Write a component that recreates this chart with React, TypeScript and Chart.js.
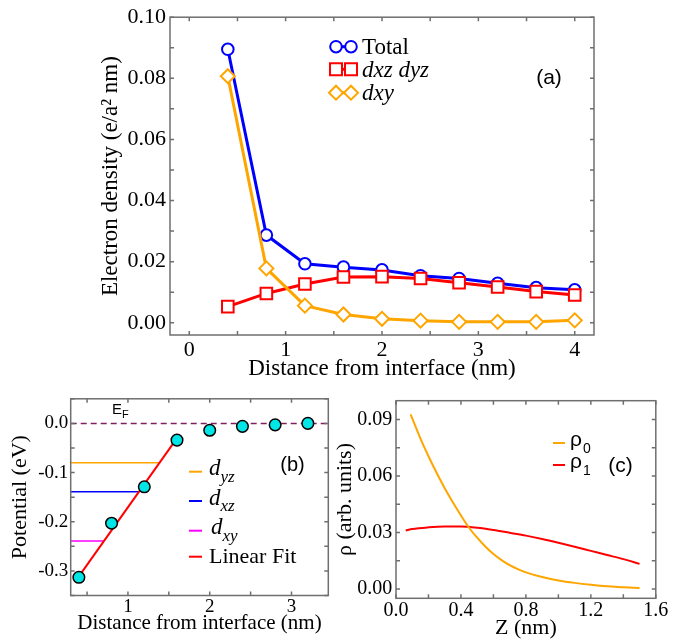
import React, { useEffect, useRef } from 'react';
import { Chart, registerables } from 'chart.js';

Chart.register(...registerables);

const SERIF = '"Liberation Serif", "Times New Roman", serif';
const SANS = '"Liberation Sans", Arial, sans-serif';

// ---------- Panel (a) data ----------
const distanceA = [0.4, 0.8, 1.2, 1.6, 2.0, 2.4, 2.8, 3.2, 3.6, 4.0];
const totalA = [0.0895, 0.0287, 0.0193, 0.0182, 0.0173, 0.0154, 0.0145, 0.0129, 0.0115, 0.0108];
const dxzDyzA = [0.0053, 0.0096, 0.0127, 0.0150, 0.0151, 0.0145, 0.0131, 0.0117, 0.0102, 0.0091];
const dxyA = [0.0807, 0.0178, 0.0056, 0.0027, 0.0013, 0.0007, 0.0003, 0.0003, 0.0003, 0.0008];
const xTicksA = [0, 1, 2, 3, 4];
const yTicksA = [0, 0.02, 0.04, 0.06, 0.08, 0.1];
const legendA = ['Total', 'dxz dyz', 'dxy'];

// ---------- Panel (b) data ----------
const distanceB = [0.4, 0.8, 1.2, 1.6, 2.0, 2.4, 2.8, 3.2];
const potentialB = [-0.313, -0.203, -0.129, -0.034, -0.014, -0.006, -0.003, 0.0];
const fitXB = [0.4, 1.6];
const fitYB = [-0.311, -0.03];
const levelYB = [-0.08, -0.139, -0.239];
const levelEndXB = [1.387, 1.135, 0.708];
const fermiB = 0.0;
const xTicksB = [1, 2, 3];
const yTicksB = [0, -0.1, -0.2, -0.3];
const legendMainB = ['d', 'd', 'd', 'Linear Fit'];
const legendSubB = ['yz', 'xz', 'xy', ''];

// ---------- Panel (c) data ----------
const zRho0 = [0.09, 0.15, 0.2, 0.25, 0.3, 0.35, 0.4, 0.45, 0.5, 0.55, 0.6, 0.65, 0.7, 0.75, 0.8, 0.9, 1.0, 1.1, 1.2, 1.3, 1.4, 1.5];
const rho0 = [0.0927, 0.0800, 0.0705, 0.0617, 0.0535, 0.046, 0.039, 0.0325, 0.0272, 0.0225, 0.0185, 0.0153, 0.0126, 0.0105, 0.0088, 0.0063, 0.0045, 0.0032, 0.0022, 0.0014, 0.0009, 0.0004];
const zRho1 = [0.06, 0.1, 0.2, 0.3, 0.4, 0.5, 0.6, 0.7, 0.8, 0.9, 1.0, 1.1, 1.2, 1.3, 1.4, 1.5];
const rho1 = [0.031, 0.0318, 0.0327, 0.0331, 0.0331, 0.0325, 0.0313, 0.0298, 0.0283, 0.0265, 0.0245, 0.0224, 0.0202, 0.018, 0.0158, 0.0133];
const xTicksC = [0, 0.4, 0.8, 1.2, 1.6];
const yTicksC = [0, 0.03, 0.06, 0.09];
const legendSubC = ['0', '1'];

const BLUE = '#0000ff';
const RED = '#ff0000';
const ORANGE = '#ffa500';
const MAGENTA = '#ff00ff';
const FRAME = '#6f6f6f';

const pts = (xs: number[], ys: number[]) => xs.map((x, i) => ({ x, y: ys[i] }));

function frameTicks(xStep: number, yStep: number) {
  return {
    id: 'frameTicks',
    afterDatasetsDraw(chart: any) {
      const { ctx, chartArea: a } = chart;
      const sx = chart.scales.x;
      const sy = chart.scales.y;
      const L = 4;
      ctx.save();
      ctx.strokeStyle = FRAME;
      ctx.lineWidth = 1.5;
      ctx.beginPath();
      for (let k = Math.ceil(sx.min / xStep - 1e-6); k <= Math.floor(sx.max / xStep + 1e-6); k++) {
        const px = sx.getPixelForValue(k * xStep);
        ctx.moveTo(px, a.bottom);
        ctx.lineTo(px, a.bottom - L);
        ctx.moveTo(px, a.top);
        ctx.lineTo(px, a.top + L);
      }
      for (let k = Math.ceil(sy.min / yStep - 1e-6); k <= Math.floor(sy.max / yStep + 1e-6); k++) {
        const py = sy.getPixelForValue(k * yStep);
        ctx.moveTo(a.left, py);
        ctx.lineTo(a.left + L, py);
        ctx.moveTo(a.right, py);
        ctx.lineTo(a.right - L, py);
      }
      ctx.stroke();
      ctx.strokeRect(a.left, a.top, a.right - a.left, a.bottom - a.top);
      ctx.restore();
    },
  };
}

function axis(o: any) {
  return {
    type: 'linear',
    min: o.min,
    max: o.max,
    grid: { display: false, drawTicks: false },
    border: { display: false },
    afterBuildTicks: (s: any) => {
      s.ticks = o.ticks.map((v: number) => ({ value: v }));
    },
    afterFit: (s: any) => {
      if (o.horizontal) s.height = o.size;
      else s.width = o.size;
    },
    ticks: {
      color: '#000',
      font: { family: SERIF, size: o.tickSize },
      padding: o.tickPad,
      maxRotation: 0,
      autoSkip: false,
      callback: (v: any) => Number(v).toFixed(o.digits),
    },
    title: {
      display: true,
      text: o.title,
      color: '#000',
      font: { family: SERIF, size: o.titleSize },
      padding: o.horizontal ? { top: 0, bottom: o.titlePad } : { top: o.titlePad, bottom: 0 },
    },
  };
}

function drawMarker(ctx: any, style: string, x: number, y: number, r: number, color: string) {
  ctx.save();
  ctx.fillStyle = '#fff';
  ctx.strokeStyle = color;
  ctx.lineWidth = 2;
  ctx.beginPath();
  if (style === 'circle') {
    ctx.arc(x, y, r, 0, Math.PI * 2);
  } else if (style === 'rect') {
    const h = r * Math.SQRT1_2;
    ctx.rect(x - h, y - h, 2 * h, 2 * h);
  } else {
    ctx.moveTo(x - r, y);
    ctx.lineTo(x, y - r);
    ctx.lineTo(x + r, y);
    ctx.lineTo(x, y + r);
    ctx.closePath();
  }
  ctx.fill();
  ctx.stroke();
  ctx.restore();
}

const baseOptions = (padding: any) => ({
  animation: false,
  responsive: false,
  devicePixelRatio: 1,
  layout: { padding, autoPadding: false },
  plugins: { legend: { display: false }, tooltip: { enabled: false } },
});

function configA(): any {
  const styles = [
    { c: BLUE, s: 'circle', r: 5.8 },
    { c: RED, s: 'rect', r: 8.2 },
    { c: ORANGE, s: 'rectRot', r: 7 },
  ];
  const series = [totalA, dxzDyzA, dxyA];
  const datasets = series.map((ys, i) => ({
    label: legendA[i],
    data: pts(distanceA, ys),
    showLine: true,
    borderColor: styles[i].c,
    borderWidth: 3,
    tension: 0,
    pointStyle: styles[i].s,
    pointRadius: styles[i].r,
    pointBorderWidth: 2,
    pointBorderColor: styles[i].c,
    pointBackgroundColor: '#ffffff',
    order: 2 - i,
  }));
  const annot = {
    id: 'annotA',
    afterDraw(chart: any) {
      const ctx = chart.ctx;
      const rows = [46.7, 69.3, 92.7];
      ctx.save();
      rows.forEach((ry, i) => {
        ctx.strokeStyle = styles[i].c;
        ctx.lineWidth = 3;
        ctx.beginPath();
        ctx.moveTo(336, ry);
        ctx.lineTo(351, ry);
        ctx.stroke();
        const rr = styles[i].s === 'circle' ? 5.8 : styles[i].s === 'rect' ? 8.5 : 7;
        drawMarker(ctx, styles[i].s, 336, ry, rr, styles[i].c);
        drawMarker(ctx, styles[i].s, 351, ry, rr, styles[i].c);
        ctx.fillStyle = '#000';
        ctx.textAlign = 'left';
        ctx.textBaseline = 'alphabetic';
        ctx.font = (i === 0 ? '' : 'italic ') + '23px ' + SERIF;
        ctx.fillText(legendA[i], 362, ry + 7.5);
      });
      ctx.font = '21px ' + SANS;
      ctx.textAlign = 'center';
      ctx.textBaseline = 'middle';
      ctx.fillText('(a)', 549, 78);
      ctx.restore();
    },
  };
  return {
    type: 'scatter',
    data: { datasets },
    options: {
      ...baseOptions({ left: 0, right: 103, top: 9.4, bottom: 0 }),
      scales: {
        x: axis({ min: -0.2, max: 4.2, ticks: xTicksA, digits: 0, horizontal: true, size: 50, tickSize: 22, tickPad: 2.4, title: 'Distance from interface (nm)', titleSize: 23, titlePad: 2.4 }),
        y: axis({ min: -0.004, max: 0.1, ticks: yTicksA, digits: 2, horizontal: false, size: 170, tickSize: 22, tickPad: 4, title: 'Electron density (e/a\u00B2 nm)', titleSize: 23, titlePad: 97.2 }),
      },
    },
    plugins: [frameTicks(0.5, 0.01), annot],
  };
}

function configB(): any {
  const levelColors = [ORANGE, BLUE, MAGENTA];
  const datasets: any[] = [
    {
      data: pts(distanceB, potentialB),
      showLine: false,
      pointStyle: 'circle',
      pointRadius: 5.8,
      pointBorderWidth: 1.5,
      pointBorderColor: '#000',
      pointBackgroundColor: '#00e6e6',
      order: 0,
    },
    {
      data: pts(fitXB, fitYB),
      showLine: true,
      borderColor: RED,
      borderWidth: 2,
      pointRadius: 0,
      order: 1,
    },
    {
      data: [{ x: 0.3, y: fermiB }, { x: 3.45, y: fermiB }],
      showLine: true,
      borderColor: '#80205f',
      borderWidth: 1.5,
      borderDash: [6, 4],
      pointRadius: 0,
      order: 2,
    },
  ];
  levelYB.forEach((ly, i) => {
    datasets.push({
      data: [{ x: 0.3, y: ly }, { x: levelEndXB[i], y: ly }],
      showLine: true,
      borderColor: levelColors[i],
      borderWidth: 1.5,
      pointRadius: 0,
      order: 3,
    });
  });
  const annot = {
    id: 'annotB',
    afterDraw(chart: any) {
      const ctx = chart.ctx;
      ctx.save();
      ctx.fillStyle = '#000';
      ctx.textAlign = 'left';
      ctx.textBaseline = 'alphabetic';
      ctx.font = '15px ' + SANS;
      ctx.fillText('E', 112, 29);
      ctx.font = '11px ' + SANS;
      ctx.fillText('F', 122, 33);
      const rows = [86.7, 116, 145.7, 171.7];
      const cols = [ORANGE, BLUE, MAGENTA, RED];
      rows.forEach((ry, i) => {
        ctx.strokeStyle = cols[i];
        ctx.lineWidth = 2;
        ctx.beginPath();
        ctx.moveTo(189, ry);
        ctx.lineTo(202, ry);
        ctx.stroke();
        ctx.fillStyle = '#000';
        if (legendSubB[i]) {
          const dx = i === 2 ? 211 : 209;
          ctx.font = 'italic 23px ' + SERIF;
          ctx.fillText(legendMainB[i], dx, ry + 3.5);
          const w = ctx.measureText(legendMainB[i]).width;
          ctx.font = 'italic 17px ' + SERIF;
          ctx.fillText(legendSubB[i], dx + w, ry + 10);
        } else {
          ctx.font = '22px ' + SERIF;
          ctx.fillText(legendMainB[i], 209, ry + 6.5);
        }
      });
      ctx.font = '20px ' + SANS;
      ctx.textAlign = 'center';
      ctx.textBaseline = 'middle';
      ctx.fillText('(b)', 292.5, 80);
      ctx.restore();
    },
  };
  return {
    type: 'scatter',
    data: { datasets },
    options: {
      ...baseOptions({ left: 0, right: 11.7, top: 5, bottom: 0 }),
      scales: {
        x: axis({ min: 0.3, max: 3.45, ticks: xTicksB, digits: 0, horizontal: true, size: 46.5, tickSize: 19, tickPad: 0, title: 'Distance from interface (nm)', titleSize: 21, titlePad: 5.8 }),
        y: axis({ min: -0.35, max: 0.05, ticks: yTicksB, digits: 1, horizontal: false, size: 70.7, tickSize: 19, tickPad: 2.4, title: 'Potential (eV)', titleSize: 22, titlePad: 6.8 }),
      },
    },
    plugins: [frameTicks(0.5, 0.05), annot],
  };
}

function configC(): any {
  const datasets = [
    {
      data: pts(zRho0, rho0),
      showLine: true,
      borderColor: ORANGE,
      borderWidth: 2,
      pointRadius: 0,
      cubicInterpolationMode: 'monotone',
    },
    {
      data: pts(zRho1, rho1),
      showLine: true,
      borderColor: RED,
      borderWidth: 2,
      pointRadius: 0,
      cubicInterpolationMode: 'monotone',
    },
  ];
  const annot = {
    id: 'annotC',
    afterDraw(chart: any) {
      const ctx = chart.ctx;
      ctx.save();
      const rows = [58, 80];
      const cols = [ORANGE, RED];
      rows.forEach((ry, i) => {
        ctx.strokeStyle = cols[i];
        ctx.lineWidth = 2;
        ctx.beginPath();
        ctx.moveTo(228, ry);
        ctx.lineTo(240, ry);
        ctx.stroke();
        ctx.fillStyle = '#000';
        ctx.textAlign = 'left';
        ctx.textBaseline = 'alphabetic';
        ctx.font = '21px ' + SANS;
        ctx.fillText('\u03C1', 245, ry + 3);
        ctx.font = '14px ' + SANS;
        ctx.fillText(legendSubC[i], 258, ry + 10);
      });
      ctx.font = '21px ' + SANS;
      ctx.textAlign = 'center';
      ctx.textBaseline = 'middle';
      ctx.fillText('(c)', 295.5, 81);
      ctx.restore();
    },
  };
  return {
    type: 'scatter',
    data: { datasets },
    options: {
      ...baseOptions({ left: 0, right: 41.2, top: 6.7, bottom: 0 }),
      scales: {
        x: axis({ min: 0, max: 1.6, ticks: xTicksC, digits: 1, horizontal: true, size: 43.7, tickSize: 20, tickPad: 0, title: 'Z (nm)', titleSize: 22, titlePad: 0.8 }),
        y: axis({ min: -0.005, max: 0.1, ticks: yTicksC, digits: 2, horizontal: false, size: 71, tickSize: 20, tickPad: 3.7, title: '\u03C1 (arb. units)', titleSize: 22, titlePad: 6.8 }),
      },
    },
    plugins: [frameTicks(0.2, 0.015), annot],
  };
}

function ChartBox(props: { left: number; top: number; width: number; height: number; build: () => any }) {
  const ref = useRef<HTMLCanvasElement>(null);
  useEffect(() => {
    const chart = new Chart(ref.current as HTMLCanvasElement, props.build());
    return () => chart.destroy();
  }, []);
  return (
    <canvas
      ref={ref}
      width={props.width}
      height={props.height}
      style={{ position: 'absolute', left: props.left, top: props.top, width: props.width, height: props.height }}
    />
  );
}

export default function App() {
  return (
    <div style={{ position: 'absolute', left: 0, top: 0, width: 697, height: 642, background: '#fff', overflow: 'hidden' }}>
      <ChartBox left={0} top={0} width={697} height={385} build={configA} />
      <ChartBox left={0} top={385} width={340} height={257} build={configB} />
      <ChartBox left={325} top={385} width={372} height={257} build={configC} />
    </div>
  );
}
